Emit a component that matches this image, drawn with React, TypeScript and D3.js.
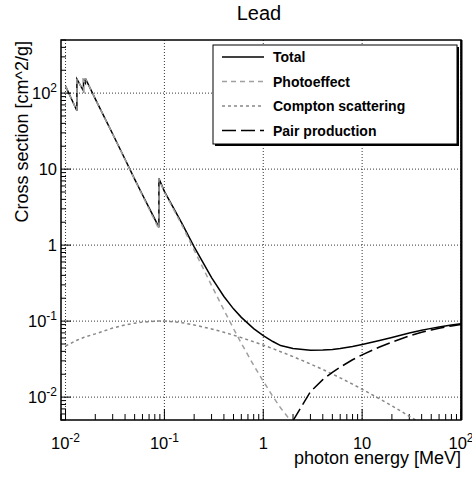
import React from 'react';
import * as d3 from 'd3';

// energies [MeV] and mass attenuation [cm^2/g] for lead
const totalE = [0.01, 0.013035, 0.013035, 0.0152, 0.0152, 0.01586, 0.01586, 0.02, 0.03, 0.04, 0.05, 0.06, 0.08, 0.088, 0.088, 0.1, 0.15, 0.2, 0.3, 0.4, 0.5, 0.6, 0.8, 1, 1.25, 1.5, 2, 3, 4, 5, 6, 8, 10, 15, 20, 30, 40, 50, 60, 80, 100];
const totalV = [124, 58.6, 153, 107, 148, 136, 157, 84.1, 29.0, 13.5, 7.39, 4.6, 2.2, 1.72, 7.5, 5.1, 1.95, 0.949, 0.374, 0.211, 0.145, 0.112, 0.0797, 0.0645, 0.0539, 0.0477, 0.0435, 0.0414, 0.0416, 0.0424, 0.0436, 0.0464, 0.0492, 0.0555, 0.0609, 0.0698, 0.0759, 0.0803, 0.0838, 0.0889, 0.0926];

const photoE = [0.01, 0.013035, 0.013035, 0.0152, 0.0152, 0.01586, 0.01586, 0.02, 0.03, 0.04, 0.05, 0.06, 0.08, 0.088, 0.088, 0.1, 0.15, 0.2, 0.3, 0.4, 0.5, 0.6, 0.8, 1, 1.25, 1.5, 2, 3];
const photoV = [124, 58.5, 153, 107, 148, 136, 157, 84, 28.9, 13.4, 7.3, 4.5, 2.1, 1.62, 7.4, 5.0, 1.85, 0.86, 0.295, 0.14, 0.0796, 0.0511, 0.0262, 0.0162, 0.0102, 0.00718, 0.00447, 0.00234];

const comptonE = [0.01, 0.013, 0.0152, 0.02, 0.03, 0.04, 0.05, 0.06, 0.08, 0.1, 0.15, 0.2, 0.3, 0.4, 0.5, 0.6, 0.8, 1, 1.25, 1.5, 2, 3, 4, 5, 6, 8, 10, 15, 20, 30, 40];
const comptonV = [0.047, 0.056, 0.061, 0.068, 0.081, 0.089, 0.094, 0.097, 0.1, 0.1, 0.0955, 0.0891, 0.0789, 0.0712, 0.0654, 0.0607, 0.0535, 0.0483, 0.0435, 0.0396, 0.0341, 0.0273, 0.0231, 0.0201, 0.0179, 0.0148, 0.0127, 0.0095, 0.0077, 0.0056, 0.0045];

const pairE = [1.5, 2, 3, 4, 5, 6, 8, 10, 15, 20, 30, 40, 50, 60, 80, 100];
const pairV = [0.0009, 0.0049, 0.0118, 0.017, 0.0212, 0.0248, 0.031, 0.036, 0.0457, 0.053, 0.064, 0.0713, 0.0765, 0.0806, 0.0864, 0.0905];

const decades = [0.01, 0.1, 1, 10, 100];
const xLabels = [['10', '-2'], ['10', '-1'], ['1', ''], ['10', ''], ['10', '2']];
const yLabels = [['10', '-2'], ['10', '-1'], ['1', ''], ['10', ''], ['10', '2']];
const legendNames = ['Total', 'Photoeffect', 'Compton scattering', 'Pair production'];

const W = 472, H = 479;
const L = 61, T = 40, R = 461, B = 420;
const font = 'Liberation Sans, Arial, Helvetica, sans-serif';

const styles = [
  { stroke: '#000', dash: undefined, width: 1.5 },
  { stroke: '#a0a0a0', dash: '5,4', width: 1.5 },
  { stroke: '#888', dash: '3,3', width: 1.5 },
  { stroke: '#000', dash: '14,5', width: 1.5 },
];

export default function App() {
  const x = d3.scaleLog().domain([0.009, 100]).range([L, R]);
  const y = d3.scaleLog().domain([0.005, 500]).range([B, T]);

  const line = (es: number[], vs: number[]) =>
    d3.line<number>().x((_, i) => x(es[i])).y(v => y(v))(vs) || '';

  const series = [
    line(totalE, totalV),
    line(photoE, photoV),
    line(comptonE, comptonV),
    line(pairE, pairV),
  ];

  const minorX: number[] = [];
  [0.001, 0.01, 0.1, 1, 10].forEach(d => {
    for (let k = 2; k <= 9; k++) { const v = d * k; if (v >= 0.009 && v <= 100) minorX.push(v); }
  });
  const minorY: number[] = [];
  [0.001, 0.01, 0.1, 1, 10, 100].forEach(d => {
    for (let k = 2; k <= 9; k++) { const v = d * k; if (v >= 0.005 && v <= 500) minorY.push(v); }
  });

  return (
    <svg width={W} height={H} style={{ position: 'absolute', left: 0, top: 0, background: '#fff' }} fontFamily={font}>
      <defs>
        <clipPath id="plot"><rect x={L} y={T} width={R - L} height={B - T} /></clipPath>
      </defs>
      <rect x={0} y={0} width={W} height={H} fill="#fff" />
      <text x={259} y={20} fontSize={20} textAnchor="middle">Lead</text>

      {/* grid */}
      {decades.map(d => (
        <line key={'gx' + d} x1={x(d)} x2={x(d)} y1={T} y2={B} stroke="#000" strokeWidth={0.8} strokeDasharray="1,2" />
      ))}
      {decades.map(d => (
        <line key={'gy' + d} x1={L} x2={R} y1={y(d)} y2={y(d)} stroke="#000" strokeWidth={0.8} strokeDasharray="1,2" />
      ))}

      {/* ticks */}
      {decades.map(d => (
        <line key={'tx' + d} x1={x(d)} x2={x(d)} y1={B} y2={B - 11} stroke="#000" strokeWidth={1} />
      ))}
      {minorX.map(d => (
        <line key={'mx' + d} x1={x(d)} x2={x(d)} y1={B} y2={B - 6} stroke="#000" strokeWidth={1} />
      ))}
      {decades.map(d => (
        <line key={'ty' + d} x1={L} x2={L + 10} y1={y(d)} y2={y(d)} stroke="#000" strokeWidth={1} />
      ))}
      {minorY.map(d => (
        <line key={'my' + d} x1={L} x2={L + 5} y1={y(d)} y2={y(d)} stroke="#000" strokeWidth={1} />
      ))}

      {/* curves */}
      <g clipPath="url(#plot)" fill="none">
        {series.map((p, i) => (
          <path key={i} d={p} stroke={styles[i].stroke} strokeWidth={styles[i].width} strokeDasharray={styles[i].dash} />
        ))}
      </g>

      {/* frame */}
      <rect x={L} y={T} width={R - L} height={B - T} fill="none" stroke="#000" strokeWidth={1.5} />
      <line x1={R + 0.5} x2={R + 0.5} y1={T} y2={B} stroke="#000" strokeWidth={2} />

      {/* tick labels */}
      {decades.map((d, i) => (
        <text key={'lx' + d} x={x(d)} y={449} fontSize={16.5} textAnchor="middle">
          {xLabels[i][0]}
          {xLabels[i][1] && <tspan fontSize={12} dy={-7}>{xLabels[i][1]}</tspan>}
        </text>
      ))}
      {decades.map((d, i) => (
        <text key={'ly' + d} x={57} y={y(d) + 6} fontSize={16.5} textAnchor="end">
          {yLabels[i][0]}
          {yLabels[i][1] && <tspan fontSize={12} dy={-7}>{yLabels[i][1]}</tspan>}
        </text>
      ))}

      <text x={R} y={464} fontSize={18} textAnchor="end">photon energy [MeV]</text>
      <text transform={`translate(28,${T + 1}) rotate(-90)`} fontSize={18} textAnchor="end">Cross section [cm^2/g]</text>

      {/* legend */}
      <rect x={215} y={47} width={244} height={99} fill="#000" />
      <rect x={213} y={45} width={244} height={99} fill="#fff" stroke="#000" strokeWidth={1} />
      {legendNames.map((n, i) => {
        const cy = 57 + i * 24.5;
        return (
          <g key={n}>
            <line x1={222} x2={264} y1={cy} y2={cy} stroke={styles[i].stroke} strokeWidth={styles[i].width} strokeDasharray={styles[i].dash} />
            <text x={273} y={cy + 5} fontSize={14} fontWeight="bold">{n}</text>
          </g>
        );
      })}
    </svg>
  );
}
